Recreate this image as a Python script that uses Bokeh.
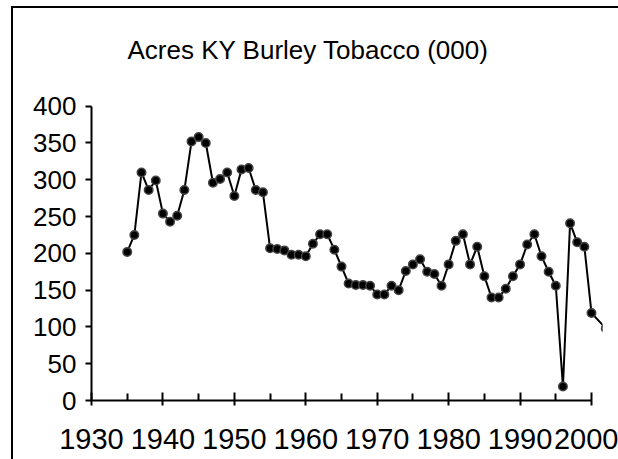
from bokeh.plotting import figure
from bokeh.models import Range1d, FixedTicker, Label
from bokeh.embed import file_html
from bokeh.resources import INLINE

title_text = "Acres KY Burley Tobacco (000)"

years = [1935, 1936, 1937, 1938, 1939, 1940, 1941, 1942, 1943, 1944,
         1945, 1946, 1947, 1948, 1949, 1950, 1951, 1952, 1953, 1954,
         1955, 1956, 1957, 1958, 1959, 1960, 1961, 1962, 1963, 1964,
         1965, 1966, 1967, 1968, 1969, 1970, 1971, 1972, 1973, 1974,
         1975, 1976, 1977, 1978, 1979, 1980, 1981, 1982, 1983, 1984,
         1985, 1986, 1987, 1988, 1989, 1990, 1991, 1992, 1993, 1994,
         1995, 1996, 1997, 1998, 1999, 2000, 2002]
acres = [202, 225, 310, 286, 299, 254, 243, 251, 286, 352,
         358, 350, 296, 301, 310, 278, 314, 316, 286, 283,
         207, 206, 204, 198, 198, 196, 213, 226, 226, 205,
         182, 159, 157, 157, 156, 144, 144, 156, 150, 176,
         185, 192, 175, 172, 156, 185, 217, 226, 185, 209,
         169, 140, 140, 152, 169, 185, 212, 226, 196, 175,
         156, 19, 241, 215, 209, 119, 98]

x_ticks = [1930, 1940, 1950, 1960, 1970, 1980, 1990, 2000]
x_minor = [t + 5 for t in x_ticks[:-1]]
y_ticks = [0, 50, 100, 150, 200, 250, 300, 350, 400]

FONT = "Liberation Sans"

# frame spans the whole upper area so the title can sit inside it
p = figure(width=605, height=451, output_backend="svg", toolbar_location=None,
           title_location=None,
           x_range=Range1d(1930, 2001.54), y_range=Range1d(0, 532.8),
           min_border_left=78, min_border_right=16, min_border_top=0,
           min_border_bottom=59,
           margin=(8, -5, -5, 13),
           styles={"outline": "2px solid black"})

p.outline_line_color = None
p.xgrid.visible = False
p.ygrid.visible = False
p.background_fill_color = "white"
p.border_fill_color = "white"

title = Label(x=x_ticks[0], y=y_ticks[-1], text=title_text,
              x_offset=36, y_offset=56,
              text_font=FONT, text_font_size="26px", text_color="black",
              text_align="left", text_baseline="alphabetic")
p.add_layout(title)

xa = p.xaxis[0]
xa.ticker = FixedTicker(ticks=x_ticks, minor_ticks=x_minor)
xa.bounds = (x_ticks[0], x_ticks[-1])
xa.axis_line_width = 2
xa.axis_line_color = "black"
xa.major_tick_in = 8
xa.major_tick_out = 5
xa.major_tick_line_width = 2
xa.minor_tick_in = 7
xa.minor_tick_out = 0
xa.minor_tick_line_width = 2
xa.major_label_standoff = 23
xa.major_label_text_font = FONT
xa.major_label_text_font_size = "29px"
xa.major_label_text_color = "black"

ya = p.yaxis[0]
ya.ticker = FixedTicker(ticks=y_ticks)
ya.bounds = (y_ticks[0], y_ticks[-1])
ya.axis_line_width = 2
ya.axis_line_color = "black"
ya.major_tick_in = 0
ya.major_tick_out = 6
ya.major_tick_line_width = 2
ya.minor_tick_in = 0
ya.minor_tick_out = 0
ya.major_label_standoff = 9
ya.major_label_text_font = FONT
ya.major_label_text_font_size = "26px"
ya.major_label_text_color = "black"

p.line(years, acres, line_color="black", line_width=2)
p.scatter(years, acres, size=8.5, fill_color="black", line_color="#444444", line_width=1.5)

open("out.html", "w").write(file_html(p, INLINE))
